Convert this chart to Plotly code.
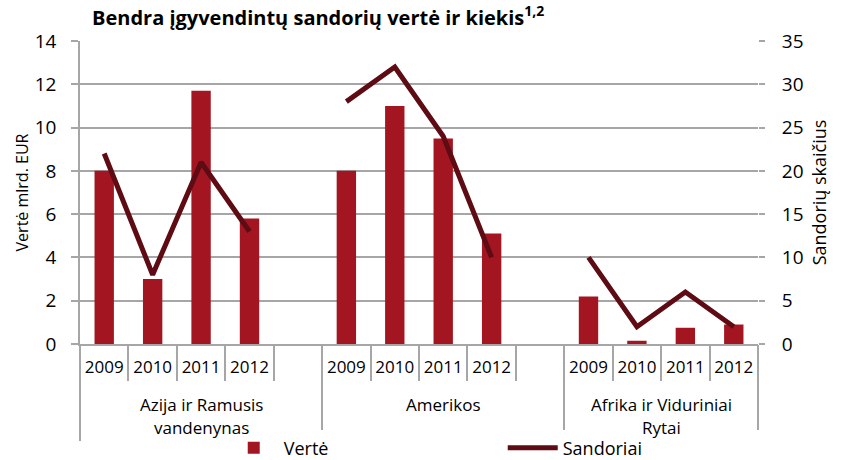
import plotly.graph_objects as go

groups = ["Azija ir Ramusis<br>vandenynas", "Amerikos", "Afrika ir Viduriniai<br>Rytai"]
years = ["2009", "2010", "2011", "2012"]

verte_azija = [8.0, 3.0, 11.7, 5.8]
verte_amerikos = [8.0, 11.0, 9.5, 5.1]
verte_afrika = [2.2, 0.15, 0.75, 0.9]

sandoriai_azija = [22, 8, 21, 13]
sandoriai_amerikos = [28, 32, 24, 10]
sandoriai_afrika = [10, 2, 6, 2]

verte_all = [verte_azija, verte_amerikos, verte_afrika]
sand_all = [sandoriai_azija, sandoriai_amerikos, sandoriai_afrika]

# build category slots: 4 years per group plus an empty slot between groups
pos, y_bar, y_line = [], [], []
year_pos, year_lbl = [], []
group_bounds, group_centers = [-0.5], []
i = 0
for gi, g in enumerate(groups):
    start = i
    for yi, yr in enumerate(years):
        pos.append(i)
        year_pos.append(i)
        year_lbl.append(yr)
        y_bar.append(verte_all[gi][yi])
        y_line.append(sand_all[gi][yi])
        i += 1
    if gi < len(groups) - 1:
        pos.append(i)
        y_bar.append(None)
        y_line.append(None)
        i += 1
    group_bounds.append(i - 0.5)
    group_centers.append((start + i - 1) / 2)
n_slots = i
slot_bounds = [k - 0.5 for k in range(n_slots + 1)]
xr = [-0.5, n_slots - 0.5]

FONT = "Open Sans"
BAR_C = "#A31621"
LINE_C = "#5E0B14"
GRID_C = "#A6A6A6"

fig = go.Figure()
fig.add_trace(go.Bar(
    x=pos, y=y_bar, name="Vertė",
    marker=dict(color=BAR_C, line=dict(width=0)),
    width=0.4,
))
fig.add_trace(go.Scatter(
    x=pos, y=y_line, name="Sandoriai", yaxis="y2",
    mode="lines", line=dict(color=LINE_C, width=5),
    connectgaps=False,
))
# empty helper traces so the boundary-tick axes get drawn
for ax in ("x2", "x3"):
    fig.add_trace(go.Scatter(
        x=[], y=[], xaxis=ax, yaxis="y", showlegend=False,
        hoverinfo="skip", mode="lines",
    ))

# group labels below the year labels
annotations = []
for c, g in zip(group_centers, groups):
    for li, line in enumerate(g.split("<br>")):
        annotations.append(dict(
            x=c, xref="x", y=-0.2 - li * 0.077, yref="paper",
            text=line, showarrow=False, xanchor="center", yanchor="middle",
            font=dict(family=FONT, size=17, color="#000000"),
        ))

fig.update_layout(
    width=848, height=460,
    margin=dict(l=80, r=90, t=41, b=116, autoexpand=False),
    paper_bgcolor="white", plot_bgcolor="white",
    font=dict(family=FONT, color="#000000", size=16),
    title=dict(
        text="<b>Bendra įgyvendintų sandorių vertė ir kiekis</b><sup><b>1,2</b></sup>",
        x=0, xref="paper", xanchor="left", y=0.977, yanchor="top",
        font=dict(family=FONT, size=20, color="#000000"),
        pad=dict(l=12),
        automargin=False,
    ),
    showlegend=True,
    legend=dict(
        orientation="h", x=0.212, xanchor="left",
        y=0.026, yanchor="middle", yref="container",
        font=dict(family=FONT, size=18), itemwidth=50,
        traceorder="normal", entrywidth=214,
    ),
    annotations=annotations,
    xaxis=dict(
        range=xr, tickmode="array", tickvals=year_pos, ticktext=year_lbl,
        showline=True, linecolor=GRID_C, linewidth=1.5,
        ticks="", ticklabelstandoff=7,
        tickfont=dict(family=FONT, size=17),
        showgrid=False, zeroline=False, automargin=False,
    ),
    xaxis2=dict(
        range=xr, overlaying="x", anchor="y", side="bottom",
        tickmode="array", tickvals=slot_bounds, showticklabels=False,
        ticks="outside", ticklen=36, tickcolor=GRID_C, tickwidth=1.5,
        showgrid=False, zeroline=False, showline=False, automargin=False,
    ),
    xaxis3=dict(
        range=xr, overlaying="x", anchor="y", side="bottom",
        tickmode="array", tickvals=group_bounds, showticklabels=False,
        ticks="outside", ticklen=96, tickcolor=GRID_C, tickwidth=1.5,
        showgrid=False, zeroline=False, showline=False, automargin=False,
    ),
    yaxis=dict(
        range=[0, 14], dtick=2,
        showline=True, linecolor=GRID_C, linewidth=1.5,
        ticks="outside", ticklen=7, tickcolor=GRID_C, tickwidth=1.5,
        showgrid=True, gridcolor=GRID_C, gridwidth=1.5,
        tickfont=dict(family=FONT, size=19), ticklabelstandoff=11,
        title=dict(text="Vertė mlrd. EUR", font=dict(family=FONT, size=16), standoff=2),
        zeroline=False, automargin=False,
    ),
    yaxis2=dict(
        range=[0, 35], dtick=5, overlaying="y", side="right",
        showline=False,
        ticks="outside", ticklen=6, tickcolor=GRID_C, tickwidth=1.5,
        showgrid=False,
        tickfont=dict(family=FONT, size=19), ticklabelstandoff=13,
        title=dict(text="Sandorių skaičius", font=dict(family=FONT, size=18), standoff=10),
        zeroline=False, automargin=False,
    ),
)

fig.write_html(
    "out.html",
    config={"displayModeBar": False},
    post_script="document.body.style.margin='0';",
)
